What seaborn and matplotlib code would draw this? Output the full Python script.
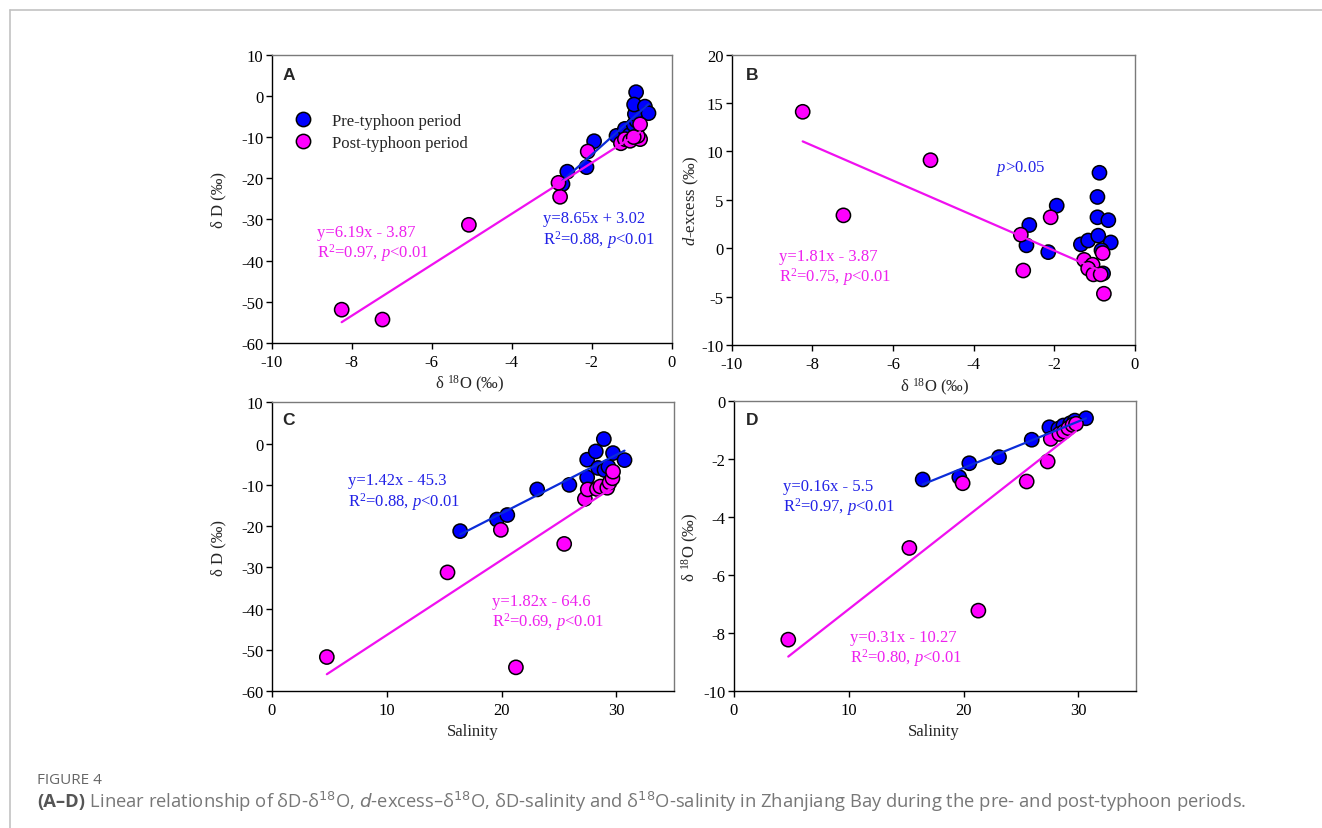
import numpy as np
import pandas as pd
import matplotlib.pyplot as plt
import seaborn as sns
from matplotlib.lines import Line2D

sns.set_style("ticks")
plt.rcParams['font.family'] = ['Liberation Serif', 'DejaVu Serif']
plt.rcParams['mathtext.fontset'] = 'custom'
plt.rcParams['mathtext.rm'] = 'Liberation Serif'
plt.rcParams['mathtext.it'] = 'Liberation Serif:italic'
plt.rcParams['mathtext.bf'] = 'Liberation Serif:bold'
plt.rcParams['axes.unicode_minus'] = False

BLUE = "#0000FF"
PINK = "#FF00FF"
BLUE_TXT = "#2222E6"
PINK_TXT = "#EE22EE"
PERIODS = ["Pre-typhoon period", "Post-typhoon period"]

# A: d18O vs dD
a_pre_x = [-2.73, -2.61, -2.13, -1.94, -1.38, -1.17, -1.05, -0.95, -0.88, -0.92, -0.89, -0.94, -0.67, -0.58]
a_pre_y = [-21.4, -18.4, -17.3, -11.0, -9.7, -8.0, -9.5, -7.0, -6.0, -4.4, 0.9, -2.1, -2.6, -4.2]
a_post_x = [-8.25, -7.23, -5.07, -2.79, -2.83, -2.10, -1.27, -1.17, -1.04, -0.79, -0.85, -0.79, -0.95]
a_post_y = [-51.9, -54.3, -31.3, -24.5, -21.1, -13.5, -11.5, -10.5, -10.9, -10.5, -9.7, -6.9, -10.0]

# B: d18O vs d-excess
b_pre_x = [-2.62, -2.69, -2.15, -1.94, -1.34, -1.16, -0.88, -0.93, -0.93, -0.66, -0.91, -0.60, -0.83, -0.79]
b_pre_y = [2.4, 0.3, -0.4, 4.4, 0.4, 0.8, 7.8, 5.3, 3.2, 2.9, 1.3, 0.6, -0.2, -2.6]
b_post_x = [-8.24, -7.23, -5.07, -2.83, -2.77, -2.09, -1.26, -1.05, -1.16, -1.03, -0.85, -0.80, -0.77]
b_post_y = [14.1, 3.4, 9.1, 1.4, -2.3, 3.2, -1.2, -1.7, -2.1, -2.7, -2.7, -0.5, -4.7]

# C: salinity vs dD
c_pre_x = [16.4, 19.6, 20.5, 23.1, 25.9, 27.45, 27.45, 28.2, 28.9, 28.4, 28.96, 29.3, 29.7, 30.7]
c_pre_y = [-21.2, -18.4, -17.3, -11.1, -10.0, -8.2, -3.9, -1.9, 1.1, -5.9, -6.4, -5.6, -2.3, -4.0]
c_post_x = [4.8, 21.25, 15.3, 19.94, 25.45, 27.25, 27.5, 28.3, 28.6, 29.2, 29.4, 29.65, 29.7]
c_post_y = [-51.7, -54.2, -31.2, -20.9, -24.3, -13.4, -11.1, -11.0, -10.4, -10.7, -9.4, -8.4, -6.8]

# D: salinity vs d18O
d_pre_x = [16.44, 19.63, 20.5, 23.09, 25.94, 27.48, 28.26, 28.7, 29.3, 29.7, 30.67]
d_pre_y = [-2.70, -2.62, -2.14, -1.93, -1.33, -0.90, -0.95, -0.84, -0.76, -0.67, -0.59]
d_post_x = [4.73, 21.29, 15.28, 19.92, 25.5, 27.33, 27.6, 28.35, 28.76, 29.13, 29.5, 29.8]
d_post_y = [-8.22, -7.22, -5.06, -2.83, -2.77, -2.08, -1.30, -1.13, -1.05, -0.93, -0.82, -0.78]

# regression lines (slope, intercept); None = not significant
a_fit_pre, a_fit_post = [8.65, 3.02], [6.19, -3.87]
b_fit_pre, b_fit_post = None, [-1.81, -3.87]
c_fit_pre, c_fit_post = [1.42, -45.3], [1.82, -64.6]
d_fit_pre, d_fit_post = [0.16, -5.5], [0.31, -10.27]

fig = plt.figure(figsize=(13.22, 8.29), dpi=100)
axA = fig.add_axes([0.2055, 0.585, 0.3026, 0.3478])
axB = fig.add_axes([0.5535, 0.5826, 0.3050, 0.3502])
axC = fig.add_axes([0.2055, 0.1649, 0.3043, 0.3486])
axD = fig.add_axes([0.5552, 0.1649, 0.3039, 0.3500])


def panel(ax, pre_x, pre_y, post_x, post_y, fit_pre, fit_post):
    df = pd.concat([
        pd.DataFrame({'x': pre_x, 'y': pre_y, 'period': PERIODS[0]}),
        pd.DataFrame({'x': post_x, 'y': post_y, 'period': PERIODS[1]}),
    ])
    sns.scatterplot(data=df, x='x', y='y', hue='period', palette={PERIODS[0]: BLUE, PERIODS[1]: PINK},
                    s=105, edgecolor='black', linewidth=1.1, legend=False, ax=ax, zorder=3)
    for xs, fit, col in [(pre_x, fit_pre, "#0B2CD8"), (post_x, fit_post, "#F010F0")]:
        if fit is None:
            continue
        lx = np.array([min(xs), max(xs)])
        ax.plot(lx, fit[0] * lx + fit[1], color=col, lw=1.6, zorder=4)
    ax.set_xlabel("")
    ax.set_ylabel("")
    for s in ['left', 'bottom']:
        ax.spines[s].set_color('black')
        ax.spines[s].set_linewidth(1.0)
    for s in ['top', 'right']:
        ax.spines[s].set_color('#7a7a7a')
        ax.spines[s].set_linewidth(1.0)
    ax.tick_params(direction='out', length=4, width=1, labelsize=12, colors='black', pad=2)
    ax.tick_params(axis='x', pad=4)


panel(axA, a_pre_x, a_pre_y, a_post_x, a_post_y, a_fit_pre, a_fit_post)
panel(axB, b_pre_x, b_pre_y, b_post_x, b_post_y, b_fit_pre, b_fit_post)
panel(axC, c_pre_x, c_pre_y, c_post_x, c_post_y, c_fit_pre, c_fit_post)
panel(axD, d_pre_x, d_pre_y, d_post_x, d_post_y, d_fit_pre, d_fit_post)

axA.set_xlim(-10, 0); axA.set_ylim(-60, 10)
axA.set_xticks(range(-10, 1, 2)); axA.set_yticks(range(-60, 11, 10))
axB.set_xlim(-10, 0); axB.set_ylim(-10, 20)
axB.set_xticks(range(-10, 1, 2)); axB.set_yticks(range(-10, 21, 5))
axC.set_xlim(0, 35); axC.set_ylim(-60, 10)
axC.set_xticks(range(0, 31, 10)); axC.set_yticks(range(-60, 11, 10))
axD.set_xlim(0, 35); axD.set_ylim(-10, 0)
axD.set_xticks(range(0, 31, 10)); axD.set_yticks(range(-10, 1, 2))

lab = dict(fontsize=12)
axA.set_ylabel("δ D (‰)", **lab); axA.yaxis.set_label_coords(-0.114, 0.5)
axB.set_ylabel("$\\it{d}$-excess (‰)", **lab); axB.yaxis.set_label_coords(-0.075, 0.5)
axC.set_ylabel("δ D (‰)", **lab); axC.yaxis.set_label_coords(-0.112, 0.5)
axD.set_ylabel("δ $^{18}$O (‰)", **lab); axD.yaxis.set_label_coords(-0.082, 0.5)
axA.set_xlabel("δ $^{18}$O (‰)", **lab); axA.xaxis.set_label_coords(0.496, -0.105)
axB.set_xlabel("δ $^{18}$O (‰)", **lab); axB.xaxis.set_label_coords(0.504, -0.105)
axC.set_xlabel("Salinity", **lab); axC.xaxis.set_label_coords(0.5, -0.11)
axD.set_xlabel("Salinity", **lab); axD.xaxis.set_label_coords(0.498, -0.11)

for ax, letter, pos in [(axA, 'A', (0.043, 0.933)), (axB, 'B', (0.05, 0.933)),
                        (axC, 'C', (0.043, 0.939)), (axD, 'D', (0.045, 0.936))]:
    ax.text(*pos, letter, transform=ax.transAxes, ha='center', va='center',
            fontsize=12.5, fontweight='bold', family='Liberation Sans')

eq = dict(fontsize=12, ha='left', va='center', zorder=5)
axA.text(-8.87, -33.0, "y=6.19x - 3.87", color=PINK_TXT, **eq)
axA.text(-8.87, -37.9, "R$^2$=0.97, $\\it{p}$<0.01", color=PINK_TXT, **eq)
axA.text(-3.22, -29.6, "y=8.65x + 3.02", color=BLUE_TXT, **eq)
axA.text(-3.22, -34.7, "R$^2$=0.88, $\\it{p}$<0.01", color=BLUE_TXT, **eq)
axB.text(-8.83, -0.8, "y=1.81x - 3.87", color=PINK_TXT, **eq)
axB.text(-8.83, -2.86, "R$^2$=0.75, $\\it{p}$<0.01", color=PINK_TXT, **eq)
axB.text(-3.45, 8.3, "$\\it{p}$>0.05", color=BLUE_TXT, **eq)
axC.text(6.64, -8.8, "y=1.42x - 45.3", color=BLUE_TXT, **eq)
axC.text(6.64, -13.9, "R$^2$=0.88, $\\it{p}$<0.01", color=BLUE_TXT, **eq)
axC.text(19.17, -38.1, "y=1.82x - 64.6", color=PINK_TXT, **eq)
axC.text(19.17, -43.0, "R$^2$=0.69, $\\it{p}$<0.01", color=PINK_TXT, **eq)
axD.text(4.27, -2.92, "y=0.16x - 5.5", color=BLUE_TXT, **eq)
axD.text(4.27, -3.61, "R$^2$=0.97, $\\it{p}$<0.01", color=BLUE_TXT, **eq)
axD.text(10.1, -8.13, "y=0.31x - 10.27", color=PINK_TXT, **eq)
axD.text(10.1, -8.82, "R$^2$=0.80, $\\it{p}$<0.01", color=PINK_TXT, **eq)

handles = [Line2D([], [], marker='o', ls='', markerfacecolor=c, markeredgecolor='black',
                  markersize=10.3, markeredgewidth=1.1, label=l) for c, l in zip([BLUE, PINK], PERIODS)]
axA.legend(handles=handles, loc='upper left', bbox_to_anchor=(0.058, 0.797), frameon=False,
           fontsize=12, handlelength=1.0, handletextpad=1.2, labelspacing=0.35,
           borderaxespad=0, borderpad=0)

# page frame and caption
fig.add_artist(Line2D([0.0072, 1.0], [0.9873, 0.9873], transform=fig.transFigure, color='#c2c2c2', lw=1.2))
fig.add_artist(Line2D([0.0072, 0.0072], [0.0, 0.9873], transform=fig.transFigure, color='#c2c2c2', lw=1.2))
fig.text(0.028, 1 - 781 / 829, "FIGURE 4", family='Open Sans', fontsize=11, color='#666666', va='center')
t1 = fig.text(0.028, 1 - 802 / 829, "(A–D)", family='Open Sans', fontweight='bold', fontsize=13.2,
              color='#555555', va='center')
fig.canvas.draw()
bb = t1.get_window_extent()
fig.text(bb.x1 / fig.bbox.width, 1 - 802 / 829,
         " Linear relationship of δD-δ$^{18}$O, $\\it{d}$-excess–δ$^{18}$O, δD-salinity and "
         "δ$^{18}$O-salinity in Zhanjiang Bay during the pre- and post-typhoon periods.",
         family='Open Sans', fontsize=13.2, color='#777777', va='center', math_fontfamily='dejavusans')

fig.savefig("out.png", dpi=100)
